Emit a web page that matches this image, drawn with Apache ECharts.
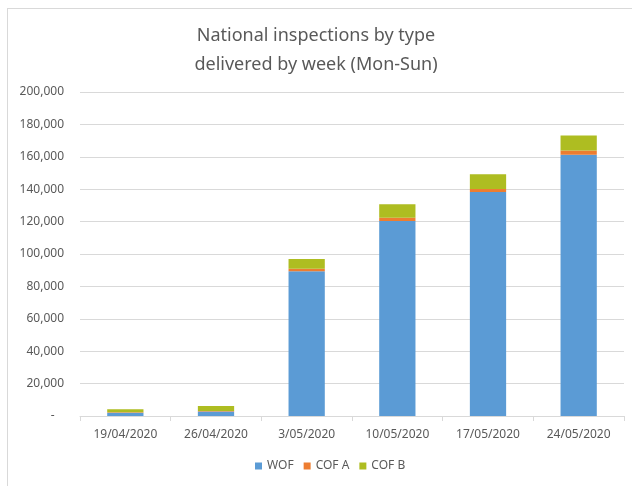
<!DOCTYPE html>
<html>
<head>
<meta charset="utf-8">
<script src="https://cdn.jsdelivr.net/npm/echarts@6/dist/echarts.min.js"></script>
<style>
  html, body { margin: 0; padding: 0; background: #ffffff; }
  #frame { position: absolute; left: 7px; top: 8px; width: 640px; height: 490px; border: 1px solid #d9d9d9; box-sizing: border-box; }
  #chart { position: absolute; left: 0; top: 0; width: 632px; height: 486px; }
</style>
</head>
<body>
<div id="frame"></div>
<div id="chart"></div>
<script>
// Weekly inspections delivered, split by inspection type
const weeks = ['19/04/2020', '26/04/2020', '3/05/2020', '10/05/2020', '17/05/2020', '24/05/2020'];
const wof  = [2000, 2800, 89400, 120400, 138300, 161200];
const cofA = [300, 300, 1500, 1900, 1900, 2700];
const cofB = [1800, 3000, 6000, 8400, 9100, 9250];
const seriesNames = ['WOF', 'COF A', 'COF B'];
const seriesColors = ['#5b9bd5', '#ed7d31', '#aebd21'];

const FONT = '"Noto Sans", "Liberation Sans", sans-serif';
const TEXT = '#595959';

const chart = echarts.init(document.getElementById('chart'), null, { renderer: 'canvas' });

function yLabel(v) {
  if (v === 0) return '-   ';
  return v.toLocaleString('en-US');
}

const makeSeries = (name, data, color) => ({
  name: name,
  type: 'bar',
  stack: 'total',
  barWidth: '40%',
  data: data,
  itemStyle: { color: color },
  emphasis: { disabled: true }
});

chart.setOption({
  animation: false,
  textStyle: { fontFamily: FONT },
  title: {
    text: 'National inspections by type\ndelivered by week (Mon-Sun)',
    left: 'center',
    top: 16,
    textStyle: { fontFamily: FONT, fontSize: 18, fontWeight: 'normal', color: TEXT, lineHeight: 29 }
  },
  legend: {
    bottom: 9,
    left: 250,
    itemWidth: 7,
    itemHeight: 7,
    itemGap: 10,
    icon: 'rect',
    textStyle: { fontFamily: FONT, fontSize: 12, color: TEXT },
    data: seriesNames
  },
  grid: { left: 80, right: 8, top: 92, bottom: 70, containLabel: false },
  xAxis: {
    type: 'category',
    data: weeks,
    axisLine: { show: true, lineStyle: { color: '#d9d9d9' } },
    axisTick: { show: true, length: 5, lineStyle: { color: '#d9d9d9' } },
    axisLabel: { color: TEXT, fontSize: 12, fontFamily: FONT, margin: 13 }
  },
  yAxis: {
    type: 'value',
    min: 0,
    max: 200000,
    interval: 20000,
    axisLine: { show: false },
    axisTick: { show: false },
    splitLine: { lineStyle: { color: '#d9d9d9', width: 1 } },
    axisLabel: { color: TEXT, fontSize: 12, fontFamily: FONT, margin: 16, formatter: yLabel }
  },
  series: [
    makeSeries(seriesNames[0], wof, seriesColors[0]),
    makeSeries(seriesNames[1], cofA, seriesColors[1]),
    makeSeries(seriesNames[2], cofB, seriesColors[2])
  ]
});
</script>
</body>
</html>
